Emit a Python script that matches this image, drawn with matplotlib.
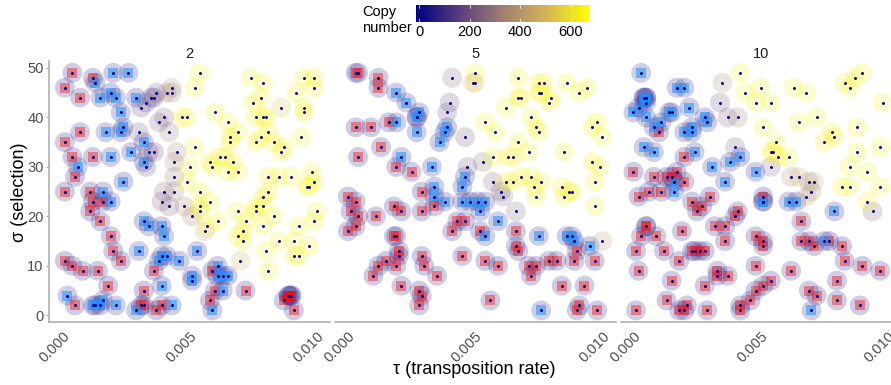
import numpy as np
import matplotlib
matplotlib.use('Agg')
import matplotlib.pyplot as plt
from matplotlib.colors import LinearSegmentedColormap

plt.rcParams['font.family'] = ['Liberation Sans', 'DejaVu Sans']

# tau values are in units of 1e-4
red_tau_2 = [4, 12, 1, 7, 7, 1, 4, 12, 5, 1, 11, 12, 16, 11, 15, 19, 20, 23, 1, 4, 8, 14, 36, 59, 18, 5, 32, 31, 32, 39,
             37, 60, 58, 72, 87, 89, 90, 89, 90, 91]
red_sigma_2 = [49, 48, 46, 44, 37, 35, 32, 32, 28, 25, 25, 23, 23, 21, 19, 16, 13, 11, 11, 10, 9, 9, 9, 9, 6, 2, 5, 2, 2, 2,
               1, 5, 3, 5, 3, 4, 4, 4, 4, 1]
blue_tau_2 = [20, 26, 13, 19, 15, 21, 29, 23, 24, 23, 17, 32, 27, 32, 6, 19, 24, 16, 19, 32, 34, 39, 40, 30, 53, 38, 39, 41,
              46, 51, 51, 61, 61, 63, 65, 63, 39, 2, 12, 13, 15, 16, 21, 29, 43, 59]
blue_sigma_2 = [49, 49, 47, 45, 44, 44, 44, 41, 38, 37, 37, 35, 33, 31, 30, 32, 27, 25, 23, 19, 18, 18, 16, 13, 13, 11, 12, 12,
                11, 8, 7, 10, 8, 8, 8, 5, 6, 4, 2, 2, 2, 3, 2, 1, 2, 1]
open_tau_2 = [37, 35, 36, 33, 31, 40, 38, 42, 30, 34, 36, 33, 40, 39, 42,
              41, 43, 43, 45, 44, 44, 44, 48, 51, 56,
              52, 50, 49, 54, 58, 54, 54, 61, 57, 58, 59, 62, 64, 67, 65, 69,
              66, 66, 76, 83, 87, 86, 81, 85, 90, 98, 99, 96, 97, 81, 79, 76, 79, 76, 69, 83,
              100, 99, 72, 79, 93, 71, 69, 71, 85, 91, 97, 80, 91, 93, 70, 81,
              54, 52, 74, 79, 95, 99, 99, 92, 78, 75, 86, 95, 95, 60, 76, 79, 80, 47, 49, 65,
              69, 81, 78, 94]
open_sigma_2 = [45, 44, 44, 43, 42, 40, 39, 37, 37, 33, 33, 30, 25, 23, 22,
                45, 45, 46, 33, 31, 28, 25, 22, 20, 17,
                34, 30, 27, 25, 23, 22, 21, 19, 18, 31, 30, 32, 32, 31, 29, 29,
                36, 35, 35, 35, 34, 33, 28, 28, 28, 29, 27, 26, 26, 25, 24, 22, 22, 21, 21, 20,
                21, 19, 19, 18, 18, 17, 16, 15, 15, 15, 14, 13, 12, 12, 11, 9,
                49, 46, 48, 47, 48, 48, 46, 45, 44, 43, 42, 42, 41, 41, 40, 40, 40, 40, 40, 39,
                37, 37, 36, 36]
open_copy_2 = [180, 160, 160, 170, 150, 230, 220, 290, 190, 140, 150, 130, 230, 220, 220,
               330, 340, 370, 330, 330, 300, 320, 330, 320, 430,
               640, 640, 640, 640, 640, 640, 640, 640, 640, 640, 640, 640, 640, 640, 640, 640,
               640, 640, 640, 640, 640, 640, 640, 640, 640, 640, 640, 640, 640, 640, 640, 640, 640, 640, 640, 640,
               640, 640, 640, 640, 640, 640, 640, 640, 640, 640, 640, 640, 640, 640, 470, 640,
               640, 640, 640, 640, 640, 640, 640, 640, 640, 640, 520, 640, 640, 640, 640, 640, 640, 640, 640, 640,
               640, 640, 640, 640]

red_tau_5 = [3, 4, 12, 12, 3, 9, 16, 13, 4, 19, 25, 29, 29, 18, 21, 11, 0, 3, 1, 4, 3, 0, 34,
             43, 46, 41, 52, 66, 18, 19, 20, 20, 15, 12, 19, 10, 29, 30, 35, 21, 28, 29, 28, 45, 54, 59, 56,
             66, 67, 71, 74, 72, 79, 82, 89, 90, 97, 84, 93, 91, 90, 98]
red_sigma_5 = [49, 49, 48, 46, 38, 38, 39, 34, 32, 30, 29, 25, 21, 22, 21, 20, 24, 23, 21, 20, 18, 17, 22,
               19, 19, 17, 17, 17, 16, 16, 13, 12, 11, 10, 10, 8, 12, 10, 8, 6, 5, 4, 2, 12, 11, 10, 3,
               14, 13, 10, 10, 8, 11, 11, 11, 13, 11, 6, 6, 2, 1, 1]
blue_tau_5 = [19, 23, 28, 27, 27, 19, 27, 39, 38, 36, 21, 33, 46, 45, 34, 34, 38, 45, 48, 51, 54, 52, 59, 54, 75, 86, 88, 89, 95, 76]
blue_sigma_5 = [45, 43, 41, 40, 40, 39, 37, 38, 37, 35, 32, 30, 28, 26, 26, 24, 23, 23, 23, 23, 23, 21, 19, 16, 16, 16, 16, 15, 14, 1]
open_tau_5 = [41, 40, 39, 46, 53, 47, 57, 66, 60, 61, 100,
              50, 49, 50, 67, 75, 77, 86, 94, 91, 75, 76, 67, 68, 80, 79, 62, 72, 54, 74, 98, 96, 58, 75, 100,
              67, 57, 63, 65, 71, 85, 96, 99, 68, 72, 62, 65, 76, 73, 97, 84, 87, 88, 74, 85, 97]
open_sigma_5 = [48, 43, 41, 36, 31, 30, 27, 21, 25, 24, 15,
                49, 47, 47, 48, 47, 47, 47, 46, 45, 45, 45, 44, 44, 44, 43, 42, 40, 39, 38, 39, 38, 37, 37, 36,
                35, 32, 32, 32, 33, 33, 31, 30, 28, 28, 27, 27, 27, 26, 27, 26, 25, 25, 24, 24, 22]
open_copy_5 = [240, 190, 170, 200, 260, 190, 230, 220, 200, 220, 400,
               640, 500, 530, 640, 640, 640, 640, 640, 640, 640, 640, 640, 640, 640, 640, 640, 640, 640, 640, 640, 640, 640, 640, 640,
               640, 640, 640, 640, 640, 640, 640, 640, 640, 640, 640, 640, 640, 640, 640, 640, 640, 640, 640, 640, 640]

red_tau_10 = [10, 20, 0, 8, 13, 15, 17, 20, 6, 11, 2, 23, 30, 27, 25, 41, 40, 51, 66, 5, 5, 3, 9, 19, 32, 36, 36, 48, 51, 51,
              66, 69, 71, 77, 82, 1, 12, 23, 24, 26, 28, 18, 83, 2, 15, 28, 33, 33, 37, 48, 62, 80, 90, 97,
              54, 51, 48, 46, 42, 42, 13, 21, 18, 20, 29, 1, 69, 72, 80, 89]
red_sigma_10 = [37, 32, 29, 28, 28, 28, 29, 27, 25, 25, 24, 23, 24, 22, 21, 21, 20, 24, 19, 18, 18, 16, 16, 17, 18, 18, 15, 16, 15, 14,
                15, 15, 14, 15, 14, 13, 13, 13, 13, 13, 13, 11, 11, 9, 7, 6, 9, 8, 8, 10, 9, 7, 10, 9,
                7, 6, 5, 3, 2, 1, 3, 2, 1, 1, 1, 1, 5, 4, 3, 2]
blue_tau_10 = [3, 17, 20, 4, 5, 4, 5, 5, 2, 0, 5, 14, 15, 22, 28, 29, 11, 8, 23, 20, 23, 4, 8, 24, 42, 38, 31, 48, 36, 16, 16, 51, 51, 61, 64, 79, 75, 70]
blue_sigma_10 = [49, 46, 46, 44, 44, 44, 44, 43, 42, 41, 40, 41, 41, 42, 40, 39, 39, 38, 38, 37, 37, 34, 33, 33, 32, 31, 30, 29, 27, 27, 25, 23, 23, 23, 23, 21, 15, 1]
open_tau_10 = [40, 34, 37, 41, 35, 54, 62, 65, 69, 71, 70, 68, 94,
               42, 50, 44, 48, 54, 63, 68, 90, 87, 83, 85, 98, 51, 65, 72, 88, 78, 79, 75, 56, 54, 55, 57, 61, 88, 97, 85, 92, 82, 85, 97, 92]
open_sigma_10 = [34, 43, 40, 40, 47, 30, 28, 28, 27, 27, 25, 24, 21,
                 49, 46, 45, 43, 43, 46, 45, 49, 48, 47, 46, 43, 38, 39, 40, 38, 37, 36, 35, 35, 33, 33, 32, 32, 33, 34, 30, 29, 26, 26, 26, 23]
open_copy_10 = [200, 190, 230, 300, 340, 230, 360, 480, 310, 420, 340, 400, 230,
                640, 640, 640, 640, 640, 640, 640, 640, 640, 640, 640, 640, 640, 640, 640, 640, 640, 640, 640, 640, 640, 640, 640, 640, 640, 640, 640, 640, 640, 640, 640, 640]

panel_names = ['2', '5', '10']
red_copy = 5
blue_copy = 30
copy_min, copy_max = -14, 666
legend_ticks = [0, 200, 400, 600]

copy_cmap = LinearSegmentedColormap.from_list(
    'copy', ['#000080', '#5b3d7f', '#a07f70', '#d4b35a', '#ffff00'])

W, H = 891, 385
fig = plt.figure(figsize=(W / 100, H / 100), dpi=100)


def px_axes(x0, x1, y_top, y_bottom):
    return fig.add_axes([x0 / W, 1 - y_bottom / H, (x1 - x0) / W, (y_bottom - y_top) / H])


panels = [
    (49.3, 330, red_tau_2, red_sigma_2, blue_tau_2, blue_sigma_2, open_tau_2, open_sigma_2, open_copy_2),
    (335, 615.5, red_tau_5, red_sigma_5, blue_tau_5, blue_sigma_5, open_tau_5, open_sigma_5, open_copy_5),
    (620.5, 901, red_tau_10, red_sigma_10, blue_tau_10, blue_sigma_10, open_tau_10, open_sigma_10, open_copy_10),
]

for i, p in enumerate(panels):
    x0, x1, rt, rs, bt, bs, ot, os_, oc = p
    ax = px_axes(x0, x1, 61, 322)
    rt, bt, ot = [np.array(a) * 1e-4 for a in (rt, bt, ot)]
    tau = np.concatenate([rt, bt, ot])
    sigma = np.concatenate([rs, bs, os_])
    copy = np.concatenate([[red_copy] * len(rt), [blue_copy] * len(bt), oc])

    ax.scatter(tau, sigma, s=205, c=copy, cmap=copy_cmap, vmin=copy_min, vmax=copy_max,
               alpha=0.2, linewidths=0, zorder=2)
    ax.scatter(rt, rs, s=62, marker='s', c='red', alpha=0.4, linewidths=0, zorder=3)
    ax.scatter(bt, bs, s=62, marker='s', c='dodgerblue', alpha=0.55, linewidths=0, zorder=3)
    ax.scatter(tau, sigma, s=4.5, c='navy', linewidths=0, zorder=4)

    ax.set_xlim(-0.00051, 0.01052)
    ax.set_ylim(-1.35, 51.4)
    ax.set_xticks([0, 0.005, 0.01])
    ax.set_xticklabels(['0.000', '0.005', '0.010'])
    ax.set_yticks([0, 10, 20, 30, 40, 50])
    for s in ['top', 'right']:
        ax.spines[s].set_visible(False)
    ax.spines['bottom'].set_color('#aaaaaa')
    ax.spines['bottom'].set_linewidth(1.1)
    ax.spines['left'].set_color('#aaaaaa')
    ax.spines['left'].set_linewidth(1.1)
    ax.tick_params(axis='both', length=2, width=0.8, color='#aaaaaa', labelcolor='#4d4d4d', labelsize=10.5, pad=2)
    ax.tick_params(axis='x', length=0, pad=5)
    for lab in ax.get_xticklabels():
        lab.set_rotation(45)
        lab.set_ha('right')
        lab.set_va('top')
        lab.set_rotation_mode('anchor')
    if i > 0:
        ax.spines['left'].set_visible(False)
        ax.tick_params(axis='y', left=False, labelleft=False)
    ax.patch.set_alpha(0)
    ax.set_title(panel_names[i], fontsize=10.5, color='#1a1a1a', pad=0, y=1.0, va='bottom')

fig.text(474.5 / W, 1 - 369 / H, '\u03c4 (transposition rate)', fontsize=13, ha='center', va='center', color='black')
fig.text(20 / W, 1 - 192 / H, '\u03c3 (selection)', fontsize=13, rotation=90, ha='center', va='center', color='black')

# colour legend
cax = px_axes(415.7, 587.7, 5, 22)
gradient = np.linspace(0, 1, 256).reshape(1, -1)
cax.imshow(gradient, aspect='auto', cmap=copy_cmap, extent=[copy_min, copy_max, 0, 1])
cax.set_yticks([])
cax.set_xticks(legend_ticks)
cax.tick_params(axis='x', length=0, labelcolor='black', labelsize=10.5, pad=2)
for t in legend_ticks:
    cax.plot([t, t], [0, 0.2], color='white', lw=0.5)
    cax.plot([t, t], [0.8, 1], color='white', lw=0.5)
cax.set_xlim(copy_min, copy_max)
cax.set_ylim(0, 1)
for s in cax.spines.values():
    s.set_visible(False)
fig.text(362 / W, 1 - 12 / H, 'Copy', fontsize=10.5, ha='left', va='center')
fig.text(362 / W, 1 - 28 / H, 'number', fontsize=10.5, ha='left', va='center')

fig.savefig('out.png', dpi=100)
